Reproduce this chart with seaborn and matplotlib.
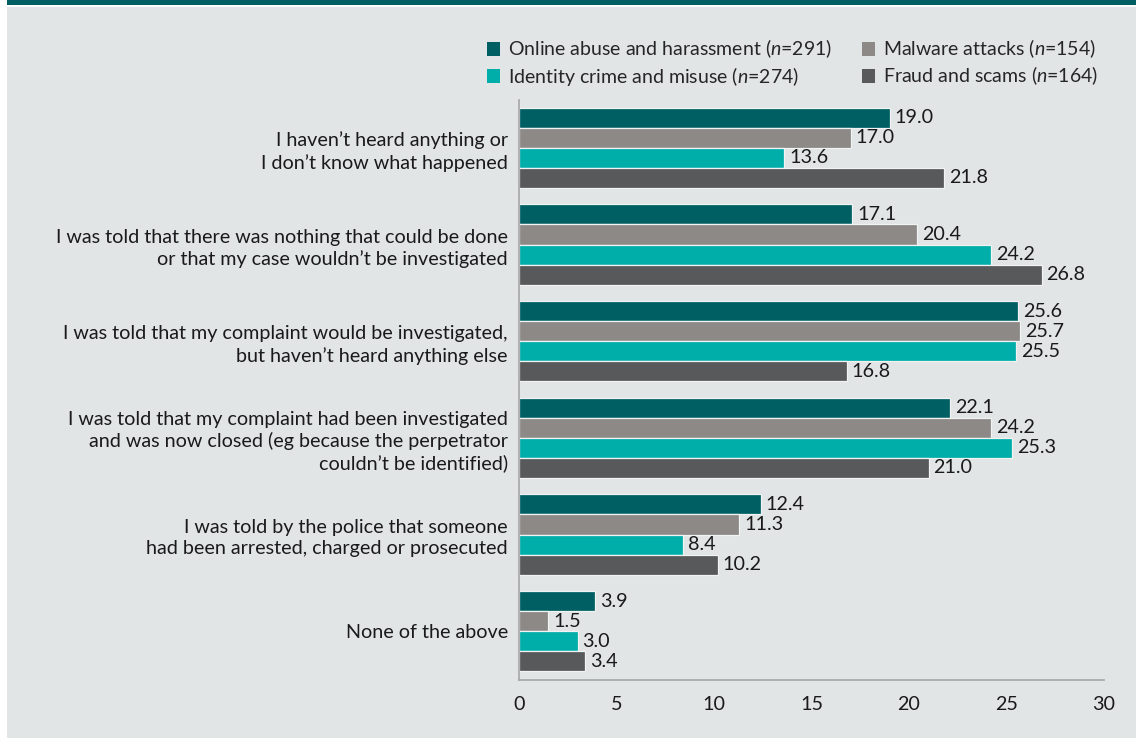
import matplotlib
matplotlib.use("Agg")
import matplotlib.pyplot as plt
from matplotlib.patches import Rectangle, Patch
import pandas as pd
import seaborn as sns

# Survey responses: what happened after reporting to police (%)
categories = [
    "I haven’t heard anything or\nI don’t know what happened",
    "I was told that there was nothing that could be done\nor that my case wouldn’t be investigated",
    "I was told that my complaint would be investigated,\nbut haven’t heard anything else",
    "I was told that my complaint had been investigated\nand was now closed (eg because the perpetrator\ncouldn’t be identified)",
    "I was told by the police that someone\nhad been arrested, charged or prosecuted",
    "None of the above",
]
series_names = [
    "Online abuse and harassment",
    "Malware attacks",
    "Identity crime and misuse",
    "Fraud and scams",
]
series_n = [291, 154, 274, 164]
online_abuse = [19.0, 17.1, 25.6, 22.1, 12.4, 3.9]
malware = [17.0, 20.4, 25.7, 24.2, 11.3, 1.5]
identity_crime = [13.6, 24.2, 25.5, 25.3, 8.4, 3.0]
fraud_scams = [21.8, 26.8, 16.8, 21.0, 10.2, 3.4]
x_ticks = [0, 5, 10, 15, 20, 25, 30]

colors = ["#005f63", "#8c8987", "#00aea9", "#58595b"]
bg = "#e1e5e6"
banner = "#005f63"

rows = []
for name, vals in zip(series_names, [online_abuse, malware, identity_crime, fraud_scams]):
    for cat, v in zip(categories, vals):
        rows.append({"category": cat, "series": name, "value": v})
df = pd.DataFrame(rows)

sns.set_theme(style="white")
plt.rcParams["font.family"] = ["Lato", "DejaVu Sans"]
plt.rcParams["mathtext.fontset"] = "custom"
plt.rcParams["mathtext.it"] = "Lato:italic"
plt.rcParams["mathtext.rm"] = "Lato"

W, H = 1136, 738
fig = plt.figure(figsize=(W / 100, H / 100), dpi=100, facecolor="white")
# panel background and top banner
fig.patches.append(Rectangle((7 / W, 0), 1 - 7 / W, 1 - 7 / H, transform=fig.transFigure,
                             facecolor=bg, edgecolor="none", zorder=-10))
fig.patches.append(Rectangle((7 / W, 1 - 5 / H), 1 - 7 / W, 5 / H, transform=fig.transFigure,
                             facecolor=banner, edgecolor="none", zorder=-10))

ax = fig.add_axes([519 / W, 1 - 679.5 / H, (1104 - 519) / W, (679.5 - 99.5) / H])
ax.set_facecolor("none")

sns.barplot(data=df, y="category", x="value", hue="series", order=categories,
            hue_order=series_names, palette=colors, saturation=1, orient="h", width=0.83,
            edgecolor="#f2f3f3", linewidth=0.9, ax=ax, legend=False, errorbar=None)

fs = 14.2
for cont in ax.containers:
    ax.bar_label(cont, fmt="%.1f", padding=3.5, fontsize=fs, color="#1a1a1a")

ax.set_xlim(0, 30)
ax.set_xticks(x_ticks)
ax.set_xticklabels([str(t) for t in x_ticks], fontsize=fs, color="#1a1a1a")
ax.set_xlabel("")
ax.set_ylabel("")
ax.set_yticks(range(len(categories)))
ax.set_yticklabels(categories, fontsize=fs, color="#1a1a1a", ha="right",
                   multialignment="right", linespacing=1.3)
ax.tick_params(axis="y", length=0, pad=8)
ax.tick_params(axis="x", length=0, pad=12)
for s in ["top", "right"]:
    ax.spines[s].set_visible(False)
for s in ["left", "bottom"]:
    ax.spines[s].set_color("#a6a6a6")
    ax.spines[s].set_linewidth(1.2)

handles = [Patch(facecolor=colors[i], edgecolor="none") for i in [0, 2, 1, 3]]
labels = [f"{series_names[i]} ($n$={series_n[i]})" for i in [0, 2, 1, 3]]
fig.legend(handles, labels, ncol=2, loc="upper right", bbox_to_anchor=(1106 / W, 1 - 30 / H),
           frameon=False, fontsize=14, handlelength=0.7, handleheight=0.7,
           handletextpad=0.4, columnspacing=1.5, labelspacing=0.22, borderaxespad=0)

fig.savefig("out.png", dpi=100, facecolor="white")
